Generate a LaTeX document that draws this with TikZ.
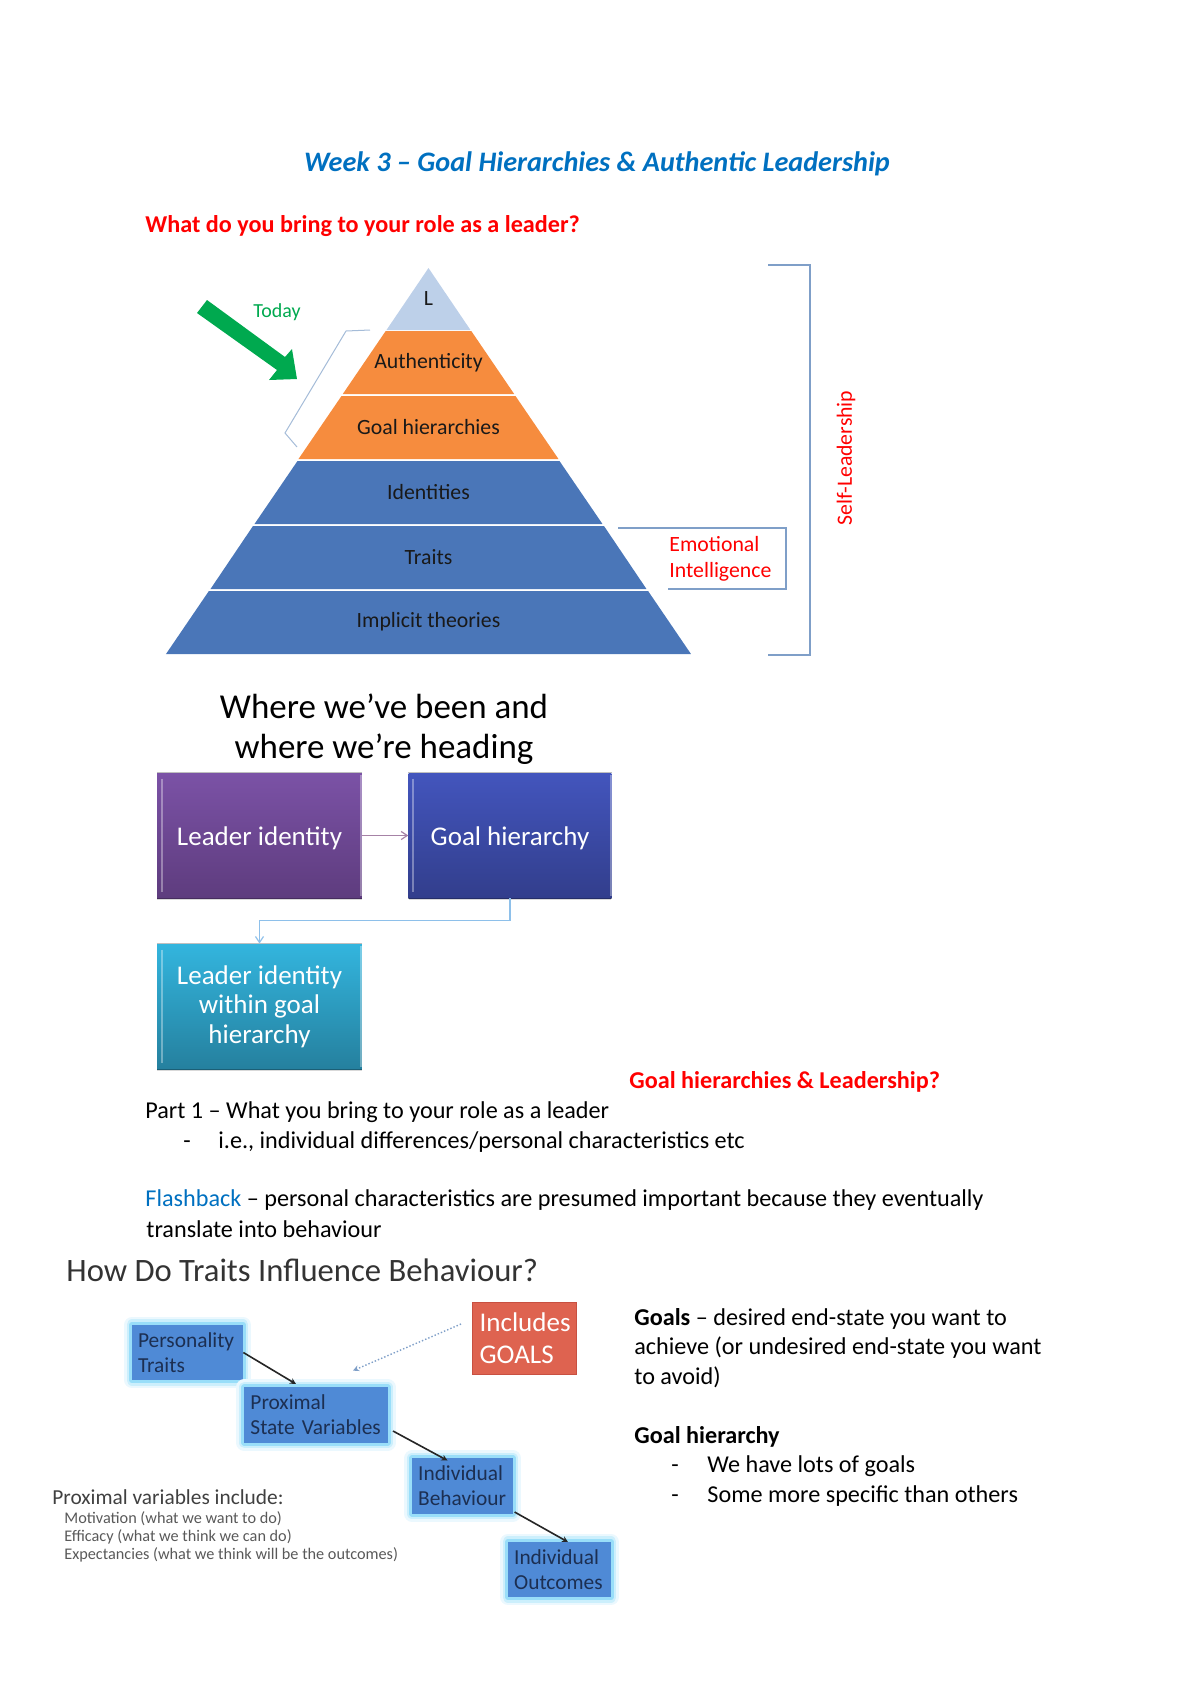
\documentclass[tikz,border=0pt]{standalone}
\usepackage{fontspec}
\setmainfont{Carlito}
\usetikzlibrary{arrows.meta,calc,shadows}
\definecolor{titleblue}{HTML}{0070C0}
\definecolor{lightband}{HTML}{BDD0E9}
\definecolor{orangeband}{HTML}{F68C3E}
\definecolor{blueband}{HTML}{4A76B8}
\definecolor{bracketblue}{HTML}{7F9FC8}
\definecolor{todaygreen}{HTML}{00A94F}
\definecolor{glowblue}{HTML}{4F8AD6}
\definecolor{navytext}{HTML}{1C2F52}
\tikzset{
  body/.style={anchor=mid west,inner sep=0pt,font=\fontsize{12}{14}\selectfont},
  redhead/.style={body,text=red,font=\fontsize{12}{14}\selectfont\bfseries},
  redlabel/.style={body,text=red,font=\fontsize{10.8}{13}\selectfont},
  band/.style={font=\fontsize{10.8}{12}\selectfont,text=black!90,inner sep=0pt},
  slidetitle/.style={inner sep=0pt,font=\fontsize{17.35}{19.9}\selectfont,align=center},
  procbox/.style={minimum height=62pt,inner sep=0pt,text=white,align=center,
    font=\fontsize{13.4}{14.7}\selectfont,
    drop shadow={shadow xshift=0pt,shadow yshift=-.8pt,opacity=.3}},
  boxedge/.style={white,opacity=.35,line width=.8pt},
  boxrim/.style={black,opacity=.25,line width=.6pt},
  glowbox/.style={fill=glowblue,text=navytext,align=left,inner xsep=3pt,inner ysep=0pt,
    text width=#1,font=\fontsize{10.6}{12.3}\selectfont,minimum height=27.4pt,line join=round,
    preaction={draw=cyan!8,line width=8pt},preaction={draw=cyan!20,line width=5.5pt},
    preaction={draw=cyan!40,line width=3pt}},
  causal/.style={black!85,line width=.8pt,-{Stealth[length=3pt,width=3pt]}},
  small/.style={body,text=black!65,font=\fontsize{8.06}{9}\selectfont},
}
\begin{document}
\begin{tikzpicture}[x=.496pt,y=-.496pt]
  \useasboundingbox (0,0) rectangle (1200,1698);
  % headings
  \node [body,text=titleblue,anchor=mid,font=\fontsize{14}{16}\selectfont\bfseries\itshape] at (597,167) (title) {Week 3 – Goal Hierarchies \& Authentic Leadership};
  \node [redhead] at (145,228) (bring) {What do you bring to your role as a leader?};
  % pyramid
  \begin{scope}[xshift=-.75pt]
  \fill [lightband] (430,268) -- (472,330) -- (388,330) -- cycle;
  \fill [orangeband] (387.2,331) -- (472.8,331) -- (515.7,394) -- (344.3,394) -- cycle;
  \fill [orangeband] (343,396) -- (517,396) -- (560,459) -- (300,459) -- cycle;
  \fill [blueband] (299,461) -- (561,461) -- (604,524) -- (256,524) -- cycle;
  \fill [blueband] (254.5,526) -- (605.5,526) -- (648,589) -- (212,589) -- cycle;
  \fill [blueband] (210.4,591) -- (649.6,591) -- (692.5,654) -- (167.5,654) -- cycle;
  \node [band] at (430,299) (lvl0) {L};
  \node [band] at (430,363) (lvl1) {Authenticity};
  \node [band] at (430,427) (lvl2) {Goal hierarchies};
  \node [band] at (430,492) (lvl3) {Identities};
  \node [band] at (430,557) (lvl4) {Traits};
  \node [band] at (430,622) (lvl5) {Implicit theories};
  \end{scope}
  % today arrow and brackets
  \fill [todaygreen] (207,300) -- (285,357) -- (292,349) -- (297,379) -- (269,380) -- (277,370) -- (197,313) -- cycle;
  \node [body,text=todaygreen,anchor=mid,font=\fontsize{9.9}{11}\selectfont] at (277,313) (today) {Today};
  \draw [bracketblue!70,line width=.5pt] (370,330) -- (346,331) -- (285,433) -- (297,447);
  \draw [bracketblue,line width=.8pt] (768,265) -- (810,265) -- (810,655) -- (768,655);
  \draw [bracketblue,line width=.7pt] (618,528) -- (786,528) -- (786,589) -- (668,589);
  \node [redlabel] at (669,547) (emo) {Emotional};
  \node [redlabel] at (669,573) (intel) {Intelligence};
  \node [redlabel,anchor=mid,rotate=90] at (847,458) (selfl) {Self-Leadership};
  % where we have been
  \node [slidetitle] at (384,729) (where) {Where we’ve been and\\where we’re heading};
  \node [procbox,minimum width=101.5pt,text height=12pt,text depth=2.5pt,top color={rgb,255:red,123;green,82;blue,166},bottom color={rgb,255:red,94;green,60;blue,126}] at (259.5,835.5) (leader) {Leader identity};
  \node [procbox,minimum width=100.5pt,text height=12pt,text depth=2.5pt,top color={rgb,255:red,67;green,85;blue,189},bottom color={rgb,255:red,50;green,62;blue,140}] at (510,835.5) (goalh) {Goal hierarchy};
  \node [procbox,minimum width=101.5pt,top color={rgb,255:red,51;green,181;blue,222},bottom color={rgb,255:red,37;green,128;blue,158}] at (259.5,1006.5) (within) {Leader identity\\within goal\\hierarchy};
  \foreach \n in {leader,goalh,within} {
    \draw [boxedge] ($(\n.north west)+(5,6)$) -- ($(\n.south west)+(5,-6)$);
    \draw [boxedge] ($(\n.north east)+(-1,2)$) -- ($(\n.south east)+(-1,-2)$);
    \draw [boxrim] (\n.north west) -- (\n.north east);
    \draw [boxrim] (\n.south west) -- (\n.south east);
  }
  \draw [violet!40!gray!70,line width=.6pt,-{Straight Barb[length=3pt,width=4pt]}] (leader) -- (goalh);
  \draw [cyan!70!blue!45,line width=.6pt,-{Straight Barb[length=3pt,width=4pt]}] (goalh.south) -- ++(0,22) -| (within.north);
  % part 1 text
  \node [redhead] at (629,1084) (ghl) {Goal hierarchies \& Leadership?};
  \node [body] at (145,1114) (part) {Part 1 – What you bring to your role as a leader};
  \node [body] at (183,1144) (dash1) {-};
  \node [body] at (218,1144) (ie) {i.e., individual differences/personal characteristics etc};
  \node [body] at (145,1202) (flash) {\textcolor{titleblue}{Flashback} – personal characteristics are presumed important because they eventually};
  \node [body] at (146,1233) (trans) {translate into behaviour};
  % traits slide
  \node [body,text=black!80,font=\fontsize{16.2}{18}\selectfont] at (66,1277) (how) {How Do Traits Influence Behaviour?};
  \node [glowbox=49pt] at (187.5,1352.5) (pers) {Personality\\Traits};
  \node [glowbox=65pt] at (316,1415) (prox) {Proximal\\\mbox{State Variables}};
  \node [glowbox=44pt] at (462.5,1486) (behav) {Individual\\Behaviour};
  \node [glowbox=45pt] at (559.5,1569.5) (outc) {Individual\\Outcomes};
  \node [draw={rgb,255:red,200;green,80;blue,65},line width=.4pt,fill={rgb,255:red,222;green,99;blue,80},text=white,
    align=left,inner xsep=3.5pt,inner ysep=0pt,minimum height=36pt,text width=44.5pt,
    font=\fontsize{13.4}{15.8}\selectfont] at (524.5,1338.5) (incl) {Includes\\GOALS};
  \coordinate (proxin) at (296,1384);
  \coordinate (behavin) at (447.5,1460.5);
  \coordinate (outcin) at (568,1542);
  \coordinate (proxout) at (393,1431);
  \coordinate (behavout) at (514.6,1512);
  \coordinate (inclout) at (461,1324);
  \coordinate (inclin) at (353,1370.6);
  \draw [causal] (pers.east) -- (proxin);
  \draw [causal] (proxout) -- (behavin);
  \draw [causal] (behavout) -- (outcin);
  \draw [bracketblue,densely dotted,line width=.7pt,-{Stealth[length=3pt,width=3pt]}] (inclout) -- (inclin);
  \node [body,text=black!75,font=\fontsize{10.6}{12}\selectfont] at (52,1500) (incl2) {Proximal variables include:};
  \node [small] at (64,1519) (moti) {Motivation (what we want to do)};
  \node [small] at (64,1537) (effi) {Efficacy (what we think we can do)};
  \node [small] at (64,1555) (expe) {Expectancies (what we think will be the outcomes)};
  % goals text
  \node [body] at (634,1321) (goals) {\textbf{Goals} – desired end-state you want to};
  \node [body] at (634,1350) (achi) {achieve (or undesired end-state you want};
  \node [body] at (634,1380) (avoid) {to avoid)};
  \node [body,font=\fontsize{12}{14}\selectfont\bfseries] at (634,1439) (gh) {Goal hierarchy};
  \node [body] at (671,1468) (dash2) {-};
  \node [body] at (707,1468) (lots) {We have lots of goals};
  \node [body] at (671,1498) (dash3) {-};
  \node [body] at (707,1498) (some) {Some more specific than others};
\end{tikzpicture}
\end{document}
